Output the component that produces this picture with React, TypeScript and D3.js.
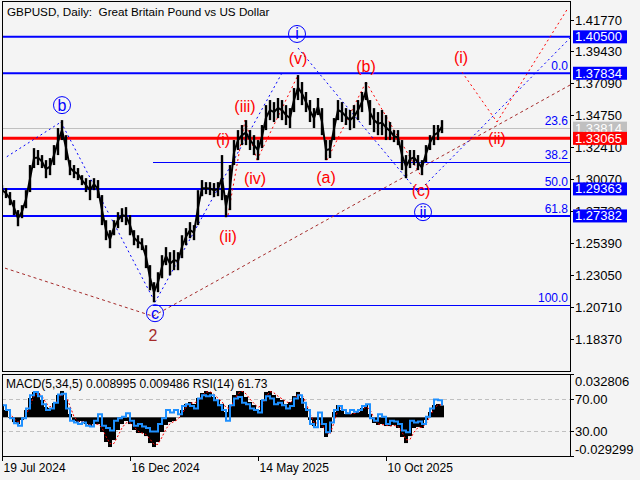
import React, { useEffect, useRef } from 'react';
import * as d3 from 'd3';

// price bars, one sample per ~3 trading days (high / low)
const barHigh = [
  1.2964, 1.2942, 1.2913, 1.2854, 1.2781, 1.2817, 1.2927, 1.3111, 1.3235, 1.3221,
  1.3184, 1.3147, 1.3162, 1.3257, 1.3382, 1.3440, 1.3330, 1.3147, 1.3111, 1.3089,
  1.3037, 1.3015, 1.3001, 1.3015, 1.3001, 1.2891, 1.2707, 1.2634, 1.2707, 1.2766,
  1.2795, 1.2803, 1.2744, 1.2634, 1.2597, 1.2575, 1.2524, 1.2378, 1.2253, 1.2326,
  1.2451, 1.2510, 1.2473, 1.2488, 1.2473, 1.2597, 1.2649, 1.2693, 1.2671, 1.2927,
  1.3001, 1.2986, 1.2986, 1.2979, 1.2986, 1.3184, 1.2891, 1.3111, 1.3294, 1.3367,
  1.3404, 1.3440, 1.3367, 1.3330, 1.3294, 1.3404, 1.3550, 1.3587, 1.3572, 1.3602,
  1.3587, 1.3550, 1.3528, 1.3675, 1.3770, 1.3719, 1.3646, 1.3587, 1.3528, 1.3602,
  1.3528, 1.3294, 1.3294, 1.3455, 1.3587, 1.3572, 1.3528, 1.3514, 1.3550, 1.3587,
  1.3646, 1.3719, 1.3587, 1.3528, 1.3499, 1.3514, 1.3477, 1.3426, 1.3367, 1.3367,
  1.3294, 1.3184, 1.3221, 1.3221, 1.3184, 1.3147, 1.3257, 1.3330, 1.3404, 1.3404,
  1.3440,
];
const barLow = [
  1.2891, 1.2869, 1.2817, 1.2744, 1.2663, 1.2722, 1.2795, 1.2913, 1.3089, 1.3111,
  1.3089, 1.3015, 1.3037, 1.3111, 1.3184, 1.3294, 1.3147, 1.3037, 1.3015, 1.3001,
  1.2964, 1.2913, 1.2854, 1.2927, 1.2869, 1.2671, 1.2561, 1.2502, 1.2597, 1.2649,
  1.2693, 1.2671, 1.2597, 1.2524, 1.2502, 1.2488, 1.2356, 1.2194, 1.2106, 1.2180,
  1.2282, 1.2378, 1.2304, 1.2341, 1.2341, 1.2429, 1.2524, 1.2575, 1.2561, 1.2671,
  1.2883, 1.2898, 1.2891, 1.2876, 1.2883, 1.2854, 1.2729, 1.2781, 1.3111, 1.3221,
  1.3257, 1.3257, 1.3221, 1.3184, 1.3147, 1.3235, 1.3367, 1.3440, 1.3426, 1.3455,
  1.3440, 1.3404, 1.3382, 1.3499, 1.3587, 1.3550, 1.3499, 1.3426, 1.3382, 1.3477,
  1.3330, 1.3147, 1.3162, 1.3294, 1.3440, 1.3426, 1.3404, 1.3367, 1.3382, 1.3440,
  1.3499, 1.3587, 1.3404, 1.3352, 1.3330, 1.3330, 1.3294, 1.3294, 1.3279, 1.3257,
  1.3074, 1.3015, 1.3089, 1.3111, 1.3074, 1.3037, 1.3133, 1.3221, 1.3257, 1.3294,
  1.3345,
];

const macdMain = [
  0.0093, 0.0055, -0.0005, -0.0036, -0.0051, -0.0020, 0.0055, 0.0146, 0.0192, 0.0184,
  0.0131, 0.0078, 0.0070, 0.0108, 0.0169, 0.0199, 0.0131, 0.0025, -0.0028, -0.0036,
  -0.0028, -0.0051, -0.0066, -0.0051, -0.0051, -0.0111, -0.0187, -0.0225, -0.0172, -0.0096,
  -0.0051, -0.0028, -0.0051, -0.0096, -0.0119, -0.0119, -0.0142, -0.0195, -0.0225, -0.0187,
  -0.0111, -0.0058, -0.0036, -0.0028, 0.0002, 0.0055, 0.0101, 0.0116, 0.0101, 0.0146,
  0.0184, 0.0199, 0.0192, 0.0154, 0.0131, 0.0101, 0.0040, 0.0093, 0.0169, 0.0199,
  0.0199, 0.0154, 0.0116, 0.0093, 0.0055, 0.0131, 0.0192, 0.0199, 0.0169, 0.0146,
  0.0131, 0.0101, 0.0116, 0.0161, 0.0192, 0.0146, 0.0070, -0.0020, -0.0066, -0.0020,
  -0.0081, -0.0149, -0.0111, 0.0040, 0.0093, 0.0055, 0.0025, 0.0025, 0.0033, 0.0040,
  0.0070, 0.0093, 0.0025, -0.0043, -0.0058, -0.0051, -0.0066, -0.0066, -0.0058, -0.0081,
  -0.0149, -0.0195, -0.0142, -0.0081, -0.0073, -0.0081, -0.0020, 0.0040, 0.0093, 0.0101,
  0.0090,
];
const macdSignal = [
  0.0105, 0.0080, 0.0030, -0.0010, -0.0035, -0.0035, 0.0010, 0.0090, 0.0160, 0.0185,
  0.0160, 0.0110, 0.0080, 0.0090, 0.0135, 0.0180, 0.0165, 0.0085, 0.0005, -0.0030,
  -0.0032, -0.0040, -0.0058, -0.0058, -0.0052, -0.0080, -0.0145, -0.0200, -0.0198, -0.0140,
  -0.0080, -0.0042, -0.0040, -0.0070, -0.0105, -0.0119, -0.0130, -0.0165, -0.0205, -0.0205,
  -0.0150, -0.0088, -0.0048, -0.0032, -0.0015, 0.0025, 0.0075, 0.0108, 0.0108, 0.0122,
  0.0162, 0.0190, 0.0195, 0.0175, 0.0145, 0.0118, 0.0075, 0.0065, 0.0125, 0.0180,
  0.0198, 0.0178, 0.0138, 0.0105, 0.0075, 0.0090, 0.0155, 0.0195, 0.0185, 0.0160,
  0.0140, 0.0118, 0.0108, 0.0135, 0.0175, 0.0170, 0.0110, 0.0028, -0.0040, -0.0045,
  -0.0055, -0.0112, -0.0130, -0.0040, 0.0060, 0.0075, 0.0042, 0.0025, 0.0029, 0.0036,
  0.0055, 0.0080, 0.0060, -0.0008, -0.0050, -0.0055, -0.0058, -0.0066, -0.0062, -0.0068,
  -0.0112, -0.0170, -0.0168, -0.0112, -0.0078, -0.0077, -0.0050, 0.0008, 0.0065, 0.0095,
  0.0095,
];
const rsiValues = [
  62, 56, 46, 40, 37, 46, 58, 74, 78, 73,
  63, 56, 58, 65, 75, 76, 58, 43, 41, 39,
  41, 37, 36, 43, 51, 37, 34, 31, 43, 46,
  48, 52, 43, 37, 39, 36, 34, 30, 30, 39,
  46, 56, 53, 56, 51, 61, 63, 61, 58, 70,
  74, 73, 74, 68, 62, 56, 43, 62, 70, 72,
  65, 63, 58, 56, 53, 68, 73, 70, 63, 65,
  62, 58, 61, 70, 74, 65, 56, 39, 35, 53,
  39, 29, 41, 56, 61, 56, 52, 56, 54, 56,
  61, 63, 46, 43, 51, 48, 39, 43, 42, 39,
  31, 29, 43, 41, 42, 39, 48, 58, 69, 68,
  61.73,
];
// indicator readout shown in the sub-window header
const indicatorReadout = ['0.008995', '0.009486', '61.73'];

const priceTicks = [1.4177, 1.3943, 1.3709, 1.3475, 1.3241, 1.3007, 1.2773, 1.2539, 1.2305, 1.2071, 1.1837];
const dateLabels = ['19 Jul 2024', '16 Dec 2024', '14 May 2025', '10 Oct 2025'];
const dateIndex = [0, 32, 64, 96];

const blueLevels = [1.405, 1.37834, 1.29363, 1.27382];
const redLevel = 1.33065;
const lastPrice = 1.33814;
const fibNames = ['0.0', '23.6', '38.2', '50.0', '61.8', '100.0'];
const fibPrices = [1.37834, 1.33836, 1.31362, 1.29363, 1.27382, 1.20892];
const fibStart = 37.75;

// wave segments as [index, price] pairs
const blueWaveLines = [
  [[1.2, 1.3172], [14.75, 1.3426]],
  [[14.75, 1.3426], [38.25, 1.2106]],
  [[38.25, 1.2106], [70, 1.3785]],
  [[74, 1.3968], [104, 1.2913]],
  [[104, 1.2913], [142, 1.4041]],
];
const redWaveLines = [
  [[56.5, 1.2744], [60.75, 1.344]],
  [[60.75, 1.344], [63.75, 1.3147]],
  [[63.75, 1.3147], [74, 1.377]],
  [[81.25, 1.3147], [91, 1.3719]],
  [[91, 1.3719], [104.75, 1.303]],
  [[115, 1.3792], [123.75, 1.3426]],
  [[123.75, 1.3426], [141.5, 1.4261]],
];
const trendLines = [
  [[0.75, 1.2356], [37.75, 1.2004]],
  [[37.75, 1.2004], [142, 1.3697]],
];

const circleLabels = [
  { text: 'b', idx: 15, price: 1.355 },
  { text: 'i', idx: 73.75, price: 1.4071 },
  { text: 'c', idx: 38.25, price: 1.2026 },
  { text: 'ii', idx: 105.25, price: 1.2766 },
];
const redLabels = [
  { text: '(v)', idx: 74, price: 1.3895 },
  { text: '(b)', idx: 91, price: 1.3836 },
  { text: '(iii)', idx: 60.75, price: 1.3543 },
  { text: '(i)', idx: 55.25, price: 1.3301 },
  { text: '(iv)', idx: 63.25, price: 1.3015 },
  { text: '(ii)', idx: 56.5, price: 1.259 },
  { text: '(a)', idx: 81, price: 1.3023 },
  { text: '(c)', idx: 104.75, price: 1.2927 },
  { text: '(i)', idx: 114.75, price: 1.3902 },
  { text: '(ii)', idx: 123.75, price: 1.3308 },
];
const degreeLabel = { text: '2', idx: 37.75, price: 1.1864 };

const FONT = '"Liberation Sans", Arial, sans-serif';

const App: React.FC = () => {
  const svgRef = useRef<SVGSVGElement>(null);

  useEffect(() => {
    if (!svgRef.current) return;
    const svg = d3.select(svgRef.current);
    svg.selectAll('*').remove();

    const left = 2, right = 570;
    const mainTop = 1, mainBottom = 371;
    const subTop = 374, subBottom = 456;

    const x = d3.scaleLinear().domain([0, 142]).range([left, right]);
    const y = d3.scaleLinear().domain([1.1837, 1.4177]).range([339, 19.5]);
    const yMacd = d3.scaleLinear().domain([-0.029299, 0.032806]).range([subBottom, subTop]);
    const yRsi = d3.scaleLinear().domain([0, 100]).range([subBottom, subTop]);

    svg.append('rect').attr('width', 640).attr('height', 480).attr('fill', '#f4f4f4');

    const defs = svg.append('defs');
    defs.append('clipPath').attr('id', 'mainClip')
      .append('rect').attr('x', left).attr('y', mainTop).attr('width', right - left).attr('height', mainBottom - mainTop);
    defs.append('clipPath').attr('id', 'subClip')
      .append('rect').attr('x', left).attr('y', subTop).attr('width', right - left).attr('height', subBottom - subTop);

    const main = svg.append('g').attr('clip-path', 'url(#mainClip)');

    // fib thin lines
    fibPrices.forEach(p => {
      main.append('line')
        .attr('x1', x(fibStart)).attr('x2', right)
        .attr('y1', Math.round(y(p)) + 0.5).attr('y2', Math.round(y(p)) + 0.5)
        .attr('stroke', '#0000ff').attr('stroke-width', 1);
    });
    // current price
    main.append('line')
      .attr('x1', left).attr('x2', right)
      .attr('y1', Math.round(y(lastPrice)) + 0.5).attr('y2', Math.round(y(lastPrice)) + 0.5)
      .attr('stroke', '#c0c0c0');

    // thick levels
    blueLevels.forEach(p => {
      main.append('line')
        .attr('x1', left).attr('x2', right)
        .attr('y1', y(p)).attr('y2', y(p))
        .attr('stroke', '#0000ff').attr('stroke-width', 2);
    });
    main.append('line')
      .attr('x1', left).attr('x2', right)
      .attr('y1', y(redLevel)).attr('y2', y(redLevel))
      .attr('stroke', '#ff0000').attr('stroke-width', 3);

    const segLine = (segs: number[][][], color: string, dash: string) => {
      segs.forEach(s => {
        main.append('line')
          .attr('x1', x(s[0][0])).attr('y1', y(s[0][1]))
          .attr('x2', x(s[1][0])).attr('y2', y(s[1][1]))
          .attr('stroke', color).attr('stroke-width', 1)
          .attr('stroke-dasharray', dash);
      });
    };
    segLine(trendLines, '#a52a2a', '3,3');
    segLine(blueWaveLines, '#0000ff', '2,3');
    segLine(redWaveLines, '#ff0000', '2,3');

    // price bars
    main.append('path')
      .datum(barHigh)
      .attr('fill', 'none').attr('stroke', '#000').attr('stroke-width', 2)
      .attr('d', d3.line<number>().x((_, i) => x(i)).y((d, i) => (y(d) + y(barLow[i])) / 2));
    main.append('g').selectAll('rect')
      .data(barHigh)
      .join('rect')
      .attr('x', (_, i) => x(i) - 1.2)
      .attr('width', 2.4)
      .attr('y', d => y(d))
      .attr('height', (d, i) => Math.max(1, y(barLow[i]) - y(d)))
      .attr('fill', '#000');

    // fib labels
    fibNames.forEach((t, i) => {
      main.append('text')
        .attr('x', right - 2).attr('y', y(fibPrices[i]) - 3)
        .attr('text-anchor', 'end')
        .attr('font-family', FONT).attr('font-size', 12)
        .attr('fill', '#0000ff').text(t);
    });

    // wave labels
    circleLabels.forEach(l => {
      main.append('circle')
        .attr('cx', x(l.idx)).attr('cy', y(l.price)).attr('r', 8.5)
        .attr('fill', 'none').attr('stroke', '#0000ff').attr('stroke-width', 1);
      main.append('text')
        .attr('x', x(l.idx)).attr('y', y(l.price) + 5.5)
        .attr('text-anchor', 'middle')
        .attr('font-family', FONT).attr('font-size', 16)
        .attr('fill', '#0000ff').text(l.text);
    });
    redLabels.forEach(l => {
      main.append('text')
        .attr('x', x(l.idx)).attr('y', y(l.price) + 5.5)
        .attr('text-anchor', 'middle')
        .attr('font-family', FONT).attr('font-size', 16)
        .attr('fill', '#ff0000').text(l.text);
    });
    main.append('text')
      .attr('x', x(degreeLabel.idx)).attr('y', y(degreeLabel.price) + 5.5)
      .attr('text-anchor', 'middle')
      .attr('font-family', FONT).attr('font-size', 16)
      .attr('fill', '#a52a2a').text(degreeLabel.text);

    // title
    svg.append('text')
      .attr('x', 7).attr('y', 16)
      .attr('font-family', FONT).attr('font-size', 11.7)
      .attr('fill', '#000')
      .attr('xml:space', 'preserve')
      .text('GBPUSD, Daily:  Great Britain Pound vs US Dollar');

    // sub window
    const sub = svg.append('g').attr('clip-path', 'url(#subClip)');
    [70, 30].forEach(v => {
      sub.append('line')
        .attr('x1', left).attr('x2', right)
        .attr('y1', Math.round(yRsi(v)) + 0.5).attr('y2', Math.round(yRsi(v)) + 0.5)
        .attr('stroke', '#c0c0c0').attr('stroke-dasharray', '4,3');
    });
    sub.append('g').selectAll('rect')
      .data(macdMain)
      .join('rect')
      .attr('x', (_, i) => x(i) - 2)
      .attr('width', 4)
      .attr('y', d => Math.min(yMacd(d), yMacd(0)))
      .attr('height', d => Math.abs(yMacd(d) - yMacd(0)))
      .attr('fill', '#000');
    sub.append('path')
      .datum(macdSignal)
      .attr('fill', 'none').attr('stroke', '#ff0000').attr('stroke-width', 1)
      .attr('stroke-dasharray', '2,2')
      .attr('d', d3.line<number>().x((_, i) => x(i)).y(d => yMacd(d)));
    sub.append('path')
      .datum(rsiValues)
      .attr('fill', 'none').attr('stroke', '#1e90ff').attr('stroke-width', 2)
      .attr('d', d3.line<number>().x((_, i) => x(i)).y(d => yRsi(d)).curve(d3.curveStepAfter));

    svg.append('text')
      .attr('x', 6).attr('y', 388)
      .attr('font-family', FONT).attr('font-size', 12)
      .attr('fill', '#000')
      .text(`MACD(5,34,5) ${indicatorReadout[0]} ${indicatorReadout[1]} RSI(14) ${indicatorReadout[2]}`);

    // frames
    svg.append('rect')
      .attr('x', left + 0.5).attr('y', mainTop + 0.5)
      .attr('width', right - left).attr('height', mainBottom - mainTop)
      .attr('fill', 'none').attr('stroke', '#000');
    svg.append('rect')
      .attr('x', left + 0.5).attr('y', subTop + 0.5)
      .attr('width', right - left).attr('height', subBottom - subTop)
      .attr('fill', 'none').attr('stroke', '#000');

    // price axis
    const axisG = svg.append('g');
    priceTicks.forEach(t => {
      const yy = Math.round(y(t)) + 0.5;
      axisG.append('line').attr('x1', right).attr('x2', right + 4).attr('y1', yy).attr('y2', yy).attr('stroke', '#000');
      axisG.append('text')
        .attr('x', right + 5).attr('y', yy + 4.5)
        .attr('font-family', FONT).attr('font-size', 13)
        .attr('fill', '#000').text(t.toFixed(5));
    });
    const boxes = [
      ...blueLevels.map(p => ({ p, fill: '#0000ff' })),
      { p: lastPrice, fill: '#c0c0c0' },
      { p: redLevel, fill: '#ff0000' },
    ];
    boxes.forEach(b => {
      const yy = y(b.p);
      axisG.append('rect')
        .attr('x', right + 3).attr('y', yy - 6.5)
        .attr('width', 54).attr('height', 13)
        .attr('fill', b.fill);
      axisG.append('text')
        .attr('x', right + 5).attr('y', yy + 4.5)
        .attr('font-family', FONT).attr('font-size', 13)
        .attr('fill', '#fff').text(b.p.toFixed(5));
    });

    // sub axis
    const subTicks = [
      { label: '0.032806', yy: subTop + 7, tick: false },
      { label: '70.00', yy: yRsi(70), tick: true },
      { label: '30.00', yy: yRsi(30), tick: true },
      { label: '-0.029299', yy: subBottom - 7, tick: false },
    ];
    subTicks.forEach(s => {
      const yy = Math.round(s.yy) + 0.5;
      if (s.tick) axisG.append('line').attr('x1', right).attr('x2', right + 4).attr('y1', yy).attr('y2', yy).attr('stroke', '#000');
      axisG.append('text')
        .attr('x', right + 5).attr('y', yy + 4.5)
        .attr('font-family', FONT).attr('font-size', 13)
        .attr('fill', '#000').text(s.label);
    });
    axisG.append('line').attr('x1', right).attr('x2', right + 4).attr('y1', subTop + 0.5).attr('y2', subTop + 0.5).attr('stroke', '#000');
    axisG.append('line').attr('x1', right).attr('x2', right + 4).attr('y1', subBottom + 0.5).attr('y2', subBottom + 0.5).attr('stroke', '#000');

    // date axis
    dateIndex.forEach((d, i) => {
      const xx = Math.round(x(d)) + 0.5;
      axisG.append('line').attr('x1', xx).attr('x2', xx).attr('y1', subBottom).attr('y2', subBottom + 5).attr('stroke', '#000');
      axisG.append('text')
        .attr('x', xx + 1).attr('y', 472)
        .attr('font-family', FONT).attr('font-size', 12)
        .attr('fill', '#000').text(dateLabels[i]);
    });
  }, []);

  return (
    <div style={{ position: 'fixed', left: 0, top: 0, width: 640, height: 480 }}>
      <svg ref={svgRef} width={640} height={480} style={{ display: 'block' }} />
    </div>
  );
};

export default App;
